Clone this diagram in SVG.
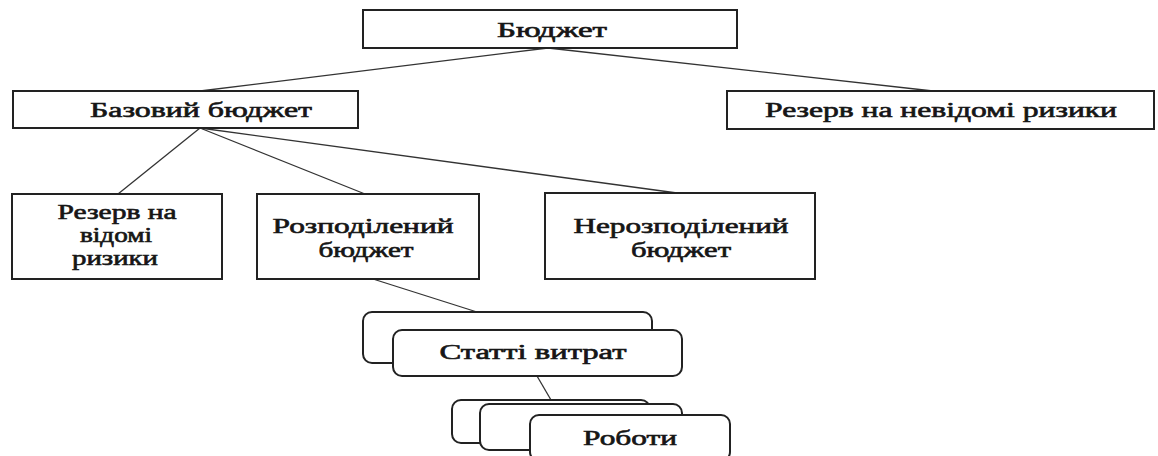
<svg xmlns="http://www.w3.org/2000/svg" width="1158" height="456" viewBox="0 0 1158 456">
  <style>
    .box { fill: #ffffff; stroke: #222222; stroke-width: 2; }
    .card { fill: #ffffff; stroke: #222222; stroke-width: 2; }
    .link { fill: none; stroke: #333333; stroke-width: 1.3; }
    .lbl { font-family: "Liberation Serif", "Times New Roman", serif; font-size: 20px; font-weight: normal; fill: #161616; text-anchor: middle; stroke: #161616; stroke-width: 0.6; }
  </style>
  <rect width="1158" height="456" fill="#ffffff"/>

  <!-- connectors -->
  <g id="connectors">
    <line class="link" x1="548" y1="48" x2="200" y2="91"/>
    <line class="link" x1="548" y1="48" x2="933" y2="91"/>
    <line class="link" x1="200" y1="128" x2="118" y2="194"/>
    <line class="link" x1="200" y1="128" x2="365" y2="194"/>
    <line class="link" x1="200" y1="128" x2="677" y2="193"/>
    <line class="link" x1="373" y1="279" x2="477" y2="312"/>
    <line class="link" x1="537" y1="376" x2="551" y2="400"/>
  </g>

  <g id="budget">
    <rect class="box" x="363" y="10" width="374" height="38"/>
    <text class="lbl" x="552" y="37" textLength="110" lengthAdjust="spacingAndGlyphs">Бюджет</text>
  </g>

  <g id="base-budget">
    <rect class="box" x="13" y="91" width="345" height="37"/>
    <text class="lbl" x="201" y="117" textLength="222" lengthAdjust="spacingAndGlyphs">Базовий бюджет</text>
  </g>

  <g id="unknown-risk-reserve">
    <rect class="box" x="727" y="91" width="427" height="38"/>
    <text class="lbl" x="941" y="117" textLength="352" lengthAdjust="spacingAndGlyphs">Резерв на невідомі ризики</text>
  </g>

  <g id="known-risk-reserve">
    <rect class="box" x="12" y="194" width="210" height="85"/>
    <text class="lbl" x="117" y="219" textLength="119" lengthAdjust="spacingAndGlyphs">Резерв на</text>
    <text class="lbl" x="116" y="242" textLength="72" lengthAdjust="spacingAndGlyphs">відомі</text>
    <text class="lbl" x="115" y="265" textLength="86" lengthAdjust="spacingAndGlyphs">ризики</text>
  </g>

  <g id="allocated-budget">
    <rect class="box" x="257" y="194" width="222" height="85"/>
    <text class="lbl" x="363" y="233" textLength="181" lengthAdjust="spacingAndGlyphs">Розподілений</text>
    <text class="lbl" x="366" y="257" textLength="95" lengthAdjust="spacingAndGlyphs">бюджет</text>
  </g>

  <g id="unallocated-budget">
    <rect class="box" x="545" y="193" width="270" height="86"/>
    <text class="lbl" x="681" y="233" textLength="215" lengthAdjust="spacingAndGlyphs">Нерозподілений</text>
    <text class="lbl" x="681" y="257" textLength="100" lengthAdjust="spacingAndGlyphs">бюджет</text>
  </g>

  <g id="cost-items">
    <rect class="card" x="363" y="312" width="289" height="51" rx="9"/>
    <rect class="card" x="393" y="330" width="289" height="46" rx="9"/>
    <text class="lbl" x="533" y="359" textLength="187" lengthAdjust="spacingAndGlyphs">Статті витрат</text>
  </g>

  <g id="work-packages">
    <rect class="card" x="452" y="400" width="198" height="43" rx="9"/>
    <rect class="card" x="480" y="404" width="202" height="46" rx="9"/>
    <rect class="card" x="530" y="415" width="200" height="46" rx="9"/>
    <text class="lbl" x="630" y="445" textLength="94" lengthAdjust="spacingAndGlyphs">Роботи</text>
  </g>
</svg>
